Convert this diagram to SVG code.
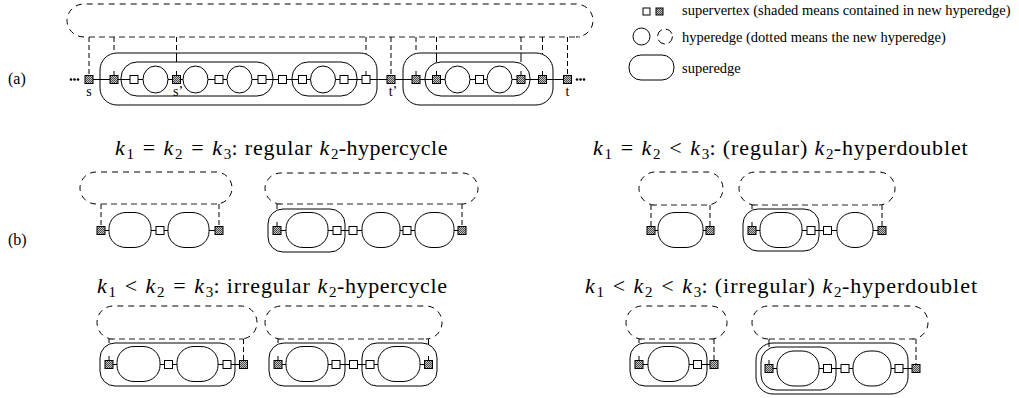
<svg xmlns="http://www.w3.org/2000/svg" width="1019" height="398" viewBox="0 0 1019 398">
<defs>
<pattern id="sh" width="2" height="2" patternUnits="userSpaceOnUse"><rect width="2" height="2" fill="#c4c4c4"/><rect width="1" height="1" fill="#4a4a4a"/><rect x="1" y="1" width="1" height="1" fill="#4a4a4a"/></pattern>
</defs>
<style>
.se{fill:none;stroke:#000;stroke-width:1}
.he{fill:#fff;stroke:#000;stroke-width:1}
.v{fill:#fff;stroke:#000;stroke-width:1}
.vs{fill:url(#sh);stroke:#000;stroke-width:1}
.dh{fill:none;stroke:#000;stroke-width:1;stroke-dasharray:6 5}
.db{stroke:#6e6e6e;stroke-width:1.3;stroke-dasharray:6 4;fill:none}
.dv{stroke:#000;stroke-width:1;stroke-dasharray:5 3;fill:none}
.ln{stroke:#000;stroke-width:1;fill:none}
.dot{fill:#000}
.t{font-family:"Liberation Serif","Times New Roman",serif;fill:#000}
.lg{font-size:14.5px}
.ttl{font-size:22px}
.it{font-style:italic}
.sub{font-size:15px}
</style>

<!-- labels -->
<text class="t" x="8" y="84" font-size="16">(a)</text>
<text class="t" x="8" y="245" font-size="16">(b)</text>

<!-- legend -->
<g id="legend">
<rect class="v" x="643" y="8" width="7" height="7"/>
<rect class="vs" x="656" y="8" width="7" height="7"/>
<text class="t lg" x="682" y="15">supervertex (shaded means contained in new hyperedge)</text>
<circle class="he" cx="641.5" cy="36.5" r="8.5"/>
<circle cx="665" cy="36.5" r="7.5" fill="none" stroke="#000" stroke-dasharray="8 4"/>
<text class="t lg" x="682" y="42">hyperedge (dotted means the new hyperedge)</text>
<rect class="se" x="629" y="55" width="45" height="25" rx="12"/>
<text class="t lg" x="682" y="72.5">superedge</text>
</g>

<!-- (a) -->
<g id="a-new-hyperedge">
<path class="dh" d="M84 37 A17 16.5 0 0 1 84 4 H576 A17 16.5 0 0 1 576 37"/>
<line class="db" x1="89" y1="37" x2="580" y2="37"/>
</g>
<g id="a-connectors">
<line class="ln" x1="89" y1="79.5" x2="567.5" y2="79.5"/>
<line class="dv" x1="89" y1="37" x2="89" y2="75"/>
<line class="dv" x1="114" y1="37" x2="114" y2="53"/><line class="ln" x1="114" y1="71" x2="114" y2="75"/>
<line class="dv" x1="176.5" y1="37" x2="176.5" y2="53"/><line class="ln" x1="176.5" y1="53" x2="176.5" y2="62"/><line class="ln" x1="176.5" y1="71" x2="176.5" y2="75"/>
<line class="dv" x1="366" y1="37" x2="366" y2="54"/><line class="ln" x1="366" y1="71" x2="366" y2="75"/>
<line class="dv" x1="391" y1="37" x2="391" y2="75"/>
<line class="dv" x1="416" y1="37" x2="416" y2="53"/><line class="ln" x1="416" y1="71" x2="416" y2="75"/>
<line class="dv" x1="436.5" y1="37" x2="436.5" y2="53"/><line class="ln" x1="436.5" y1="53" x2="436.5" y2="62"/><line class="ln" x1="436.5" y1="71" x2="436.5" y2="75"/>
<line class="dv" x1="521" y1="37" x2="521" y2="53"/><line class="ln" x1="521" y1="53" x2="521" y2="62"/><line class="ln" x1="521" y1="71" x2="521" y2="75"/>
<line class="dv" x1="542.5" y1="37" x2="542.5" y2="54"/><line class="ln" x1="542.5" y1="71" x2="542.5" y2="75"/>
<line class="dv" x1="567.5" y1="37" x2="567.5" y2="75"/>
<circle class="dot" cx="71" cy="79.5" r="1.3"/><circle class="dot" cx="74.5" cy="79.5" r="1.3"/><circle class="dot" cx="78" cy="79.5" r="1.3"/>
<circle class="dot" cx="577" cy="79.5" r="1.3"/><circle class="dot" cx="580.5" cy="79.5" r="1.3"/><circle class="dot" cx="584" cy="79.5" r="1.3"/>
</g>
<g id="a-superedges">
<rect class="se" x="100" y="53" width="277" height="52" rx="17"/>
<rect class="se" x="121" y="62" width="152" height="34" rx="16"/>
<rect class="se" x="292" y="62" width="65" height="34" rx="16"/>
<rect class="se" x="403" y="53" width="150" height="52" rx="17"/>
<rect class="se" x="425" y="62" width="105" height="34" rx="16"/>
</g>
<g id="a-hyperedges">
<ellipse class="he" cx="155.5" cy="79.5" rx="12.5" ry="13.5"/>
<ellipse class="he" cx="195.5" cy="79.5" rx="12.5" ry="13.5"/>
<ellipse class="he" cx="239.5" cy="79.5" rx="12.5" ry="13.5"/>
<ellipse class="he" cx="323" cy="79.5" rx="12.5" ry="13.5"/>
<ellipse class="he" cx="457.5" cy="79.5" rx="12.5" ry="13.5"/>
<ellipse class="he" cx="499.5" cy="79.5" rx="12.5" ry="13.5"/>
</g>
<g id="a-vertices">
<rect id="a-s" class="vs" x="85" y="75.5" width="8" height="8"/>
<rect class="vs" x="110" y="75.5" width="8" height="8"/>
<rect class="v" x="130" y="75.5" width="8" height="8"/>
<rect id="a-s2" class="vs" x="172.5" y="75.5" width="8" height="8"/>
<rect class="v" x="215" y="75.5" width="8" height="8"/>
<rect class="v" x="258" y="75.5" width="8" height="8"/>
<rect class="v" x="278.5" y="75.5" width="8" height="8"/>
<rect class="v" x="298.5" y="75.5" width="8" height="8"/>
<rect class="v" x="340" y="75.5" width="8" height="8"/>
<rect class="v" x="362" y="75.5" width="8" height="8"/>
<rect id="a-t2" class="vs" x="387" y="75.5" width="8" height="8"/>
<rect class="vs" x="412" y="75.5" width="8" height="8"/>
<rect class="vs" x="432.5" y="75.5" width="8" height="8"/>
<rect class="v" x="475.5" y="75.5" width="8" height="8"/>
<rect class="vs" x="517" y="75.5" width="8" height="8"/>
<rect class="vs" x="538.5" y="75.5" width="8" height="8"/>
<rect id="a-t" class="vs" x="563.5" y="75.5" width="8" height="8"/>
</g>
<g id="a-labels">
<text class="t" x="89" y="96" font-size="14" text-anchor="middle">s</text>
<text class="t" x="178" y="96" font-size="14" text-anchor="middle">s’</text>
<text class="t" x="393" y="96" font-size="14" text-anchor="middle">t’</text>
<text class="t" x="567.5" y="96" font-size="14" text-anchor="middle">t</text>
</g>

<!-- (b) titles -->
<g id="title-1">
<text class="t ttl" y="155"><tspan class="it" x="115">k</tspan><tspan class="sub" x="126.5" dy="4">1</tspan><tspan x="148.9" dy="-4" text-anchor="middle">=</tspan><tspan class="it" x="163.6">k</tspan><tspan class="sub" x="175.1" dy="4">2</tspan><tspan x="197.4" dy="-4" text-anchor="middle">=</tspan><tspan class="it" x="212.2">k</tspan><tspan class="sub" x="223.7" dy="4">3</tspan><tspan x="231.4" dy="-4">:</tspan><tspan x="244.8" textLength="67.4">regular</tspan><tspan class="it" x="319.5">k</tspan><tspan class="sub" x="331" dy="4">2</tspan><tspan x="338.7" dy="-4" textLength="108.8">-hypercycle</tspan></text>
</g>
<g id="title-2">
<text class="t ttl" y="155"><tspan class="it" x="593">k</tspan><tspan class="sub" x="604.5" dy="4">1</tspan><tspan x="626.9" dy="-4" text-anchor="middle">=</tspan><tspan class="it" x="641.6">k</tspan><tspan class="sub" x="653.1" dy="4">2</tspan><tspan x="675.5" dy="-4" text-anchor="middle">&lt;</tspan><tspan class="it" x="690.2">k</tspan><tspan class="sub" x="701.7" dy="4">3</tspan><tspan x="709.4" dy="-4">:</tspan><tspan x="722.8" textLength="84.5">(regular)</tspan><tspan class="it" x="814.6">k</tspan><tspan class="sub" x="826.1" dy="4">2</tspan><tspan x="833.8" dy="-4" textLength="133.9">-hyperdoublet</tspan></text>
</g>
<g id="title-3">
<text class="t ttl" y="293"><tspan class="it" x="97">k</tspan><tspan class="sub" x="108.5" dy="4">1</tspan><tspan x="130.9" dy="-4" text-anchor="middle">&lt;</tspan><tspan class="it" x="145.6">k</tspan><tspan class="sub" x="157.1" dy="4">2</tspan><tspan x="179.5" dy="-4" text-anchor="middle">=</tspan><tspan class="it" x="194.2">k</tspan><tspan class="sub" x="205.7" dy="4">3</tspan><tspan x="213.4" dy="-4">:</tspan><tspan x="226.8" textLength="83">irregular</tspan><tspan class="it" x="317.5">k</tspan><tspan class="sub" x="329" dy="4">2</tspan><tspan x="337" dy="-4" textLength="110">-hypercycle</tspan></text>
</g>
<g id="title-4">
<text class="t ttl" y="293"><tspan class="it" x="585">k</tspan><tspan class="sub" x="596.5" dy="4">1</tspan><tspan x="618.9" dy="-4" text-anchor="middle">&lt;</tspan><tspan class="it" x="633.6">k</tspan><tspan class="sub" x="645.1" dy="4">2</tspan><tspan x="667.5" dy="-4" text-anchor="middle">&lt;</tspan><tspan class="it" x="682.2">k</tspan><tspan class="sub" x="693.7" dy="4">3</tspan><tspan x="701.4" dy="-4">:</tspan><tspan x="714.8" textLength="100">(irregular)</tspan><tspan class="it" x="822.5">k</tspan><tspan class="sub" x="834" dy="4">2</tspan><tspan x="842" dy="-4" textLength="135">-hyperdoublet</tspan></text>
</g>

<!-- (b) row 1, diagram A -->
<g id="b-A">
<path class="dh" d="M96 204 A16 16 0 0 1 96 172 H216 A16 16 0 0 1 216 204"/>
<line class="db" x1="101" y1="204" x2="219" y2="204"/>
<line class="dv" x1="101" y1="204" x2="101" y2="226"/>
<line class="dv" x1="219" y1="204" x2="219" y2="226"/>
<line class="ln" x1="101" y1="230.5" x2="219" y2="230.5"/>
<rect class="he" x="109" y="212.5" width="42" height="35" rx="17" ry="16"/>
<rect class="he" x="168" y="212.5" width="41" height="35" rx="17" ry="16"/>
<rect class="vs" x="97" y="226.5" width="8" height="8"/>
<rect class="v" x="156" y="226.5" width="8" height="8"/>
<rect class="vs" x="215" y="226.5" width="8" height="8"/>
</g>

<!-- diagram B -->
<g id="b-B">
<path class="dh" d="M281 204 A16 15.5 0 0 1 281 173 H462 A16 15.5 0 0 1 462 204"/>
<line class="db" x1="277" y1="204" x2="462" y2="204"/>
<line class="ln" x1="277" y1="204" x2="277" y2="209"/>
<line class="ln" x1="277" y1="222" x2="277" y2="226"/>
<line class="dv" x1="462" y1="204" x2="462" y2="226"/>
<line class="ln" x1="277" y1="230.5" x2="462" y2="230.5"/>
<rect class="se" x="268" y="209" width="77" height="43" rx="15"/>
<rect class="he" x="286" y="212.5" width="42" height="35" rx="17" ry="16"/>
<rect class="he" x="362" y="212.5" width="38" height="35" rx="17" ry="16"/>
<rect class="he" x="415" y="212.5" width="39" height="35" rx="17" ry="16"/>
<rect class="vs" x="273" y="226.5" width="8" height="8"/>
<rect class="v" x="333" y="226.5" width="8" height="8"/>
<rect class="v" x="349" y="226.5" width="8" height="8"/>
<rect class="v" x="403" y="226.5" width="8" height="8"/>
<rect class="vs" x="458" y="226.5" width="8" height="8"/>
</g>

<!-- diagram C -->
<g id="b-C">
<path class="dh" d="M655 205 A16 16.5 0 0 1 655 172 H707 A16 16.5 0 0 1 707 205"/>
<line class="db" x1="651" y1="205" x2="710" y2="205"/>
<line class="dv" x1="651" y1="205" x2="651" y2="226"/>
<line class="dv" x1="710" y1="205" x2="710" y2="226"/>
<line class="ln" x1="651" y1="230.5" x2="710" y2="230.5"/>
<rect class="he" x="658" y="212.5" width="45" height="35" rx="17" ry="16"/>
<rect class="vs" x="647" y="226.5" width="8" height="8"/>
<rect class="vs" x="706" y="226.5" width="8" height="8"/>
</g>

<!-- diagram D -->
<g id="b-D">
<path class="dh" d="M755 205 A16 16.5 0 0 1 755 172 H879 A16 16.5 0 0 1 879 205"/>
<line class="db" x1="752" y1="205" x2="882" y2="205"/>
<line class="ln" x1="752" y1="205" x2="752" y2="209"/>
<line class="ln" x1="752" y1="222" x2="752" y2="226"/>
<line class="dv" x1="882" y1="205" x2="882" y2="226"/>
<line class="ln" x1="752" y1="230.5" x2="882" y2="230.5"/>
<rect class="se" x="743" y="209" width="76" height="42" rx="15"/>
<rect class="he" x="760" y="212.5" width="42" height="35" rx="17" ry="16"/>
<rect class="he" x="837" y="212.5" width="36" height="35" rx="17" ry="16"/>
<rect class="vs" x="748" y="226.5" width="8" height="8"/>
<rect class="v" x="807" y="226.5" width="8" height="8"/>
<rect class="v" x="823.5" y="226.5" width="8" height="8"/>
<rect class="vs" x="878" y="226.5" width="8" height="8"/>
</g>

<!-- row 2, diagram E -->
<g id="b-E">
<path class="dh" d="M113 339 A16 16.5 0 0 1 113 306 H241 A16 16.5 0 0 1 241 339"/>
<line class="db" x1="109" y1="339" x2="243.5" y2="339"/>
<line class="ln" x1="109" y1="339" x2="109" y2="343"/>
<line class="ln" x1="109" y1="356" x2="109" y2="360"/>
<line class="dv" x1="243.5" y1="339" x2="243.5" y2="360"/>
<line class="ln" x1="109" y1="364.5" x2="243.5" y2="364.5"/>
<rect class="se" x="100" y="343" width="135" height="43" rx="15"/>
<rect class="he" x="117" y="346.5" width="43" height="35" rx="17" ry="16"/>
<rect class="he" x="177" y="346.5" width="41" height="35" rx="17" ry="16"/>
<rect class="vs" x="105" y="360.5" width="8" height="8"/>
<rect class="v" x="164.5" y="360.5" width="8" height="8"/>
<rect class="v" x="223" y="360.5" width="8" height="8"/>
<rect class="vs" x="239.5" y="360.5" width="8" height="8"/>
</g>

<!-- diagram F -->
<g id="b-F">
<path class="dh" d="M281 339 A16 16.5 0 0 1 281 306 H426 A16 16.5 0 0 1 426 339"/>
<line class="db" x1="278" y1="339" x2="428.5" y2="339"/>
<line class="ln" x1="278" y1="339" x2="278" y2="343"/>
<line class="ln" x1="278" y1="356" x2="278" y2="360"/>
<line class="ln" x1="428.5" y1="339" x2="428.5" y2="345"/>
<line class="ln" x1="428.5" y1="356" x2="428.5" y2="360"/>
<line class="ln" x1="278" y1="364.5" x2="428.5" y2="364.5"/>
<rect class="se" x="269" y="343" width="76" height="43" rx="15"/>
<rect class="se" x="362" y="343" width="75" height="43" rx="15"/>
<rect class="he" x="286" y="346.5" width="42" height="35" rx="17" ry="16"/>
<rect class="he" x="378" y="346.5" width="42" height="35" rx="17" ry="16"/>
<rect class="vs" x="274" y="360.5" width="8" height="8"/>
<rect class="v" x="332" y="360.5" width="8" height="8"/>
<rect class="v" x="349.5" y="360.5" width="8" height="8"/>
<rect class="v" x="366" y="360.5" width="8" height="8"/>
<rect class="vs" x="424.5" y="360.5" width="8" height="8"/>
</g>

<!-- diagram G -->
<g id="b-G">
<path class="dh" d="M642 339 A16 16.5 0 0 1 642 306 H711 A16 16.5 0 0 1 711 339"/>
<line class="db" x1="639" y1="339" x2="714" y2="339"/>
<line class="ln" x1="639" y1="339" x2="639" y2="343"/>
<line class="ln" x1="639" y1="356" x2="639" y2="360"/>
<line class="dv" x1="714" y1="339" x2="714" y2="360"/>
<line class="ln" x1="639" y1="364.5" x2="714" y2="364.5"/>
<rect class="se" x="630" y="343" width="77" height="43" rx="15"/>
<rect class="he" x="648" y="346.5" width="41" height="35" rx="17" ry="16"/>
<rect class="vs" x="635" y="360.5" width="8" height="8"/>
<rect class="v" x="693.5" y="360.5" width="8" height="8"/>
<rect class="vs" x="710" y="360.5" width="8" height="8"/>
</g>

<!-- diagram H -->
<g id="b-H">
<path class="dh" d="M768 339 A16 16.5 0 0 1 768 306 H912 A16 16.5 0 0 1 912 339"/>
<line class="db" x1="769" y1="339" x2="916" y2="339"/>
<line class="ln" x1="769" y1="339" x2="769" y2="347"/>
<line class="ln" x1="769" y1="360" x2="769" y2="364"/>
<line class="dv" x1="916" y1="339" x2="916" y2="364"/>
<line class="ln" x1="769" y1="368.5" x2="916" y2="368.5"/>
<rect class="se" x="756" y="343" width="152" height="51" rx="17"/>
<rect class="se" x="761" y="347" width="75" height="43" rx="15"/>
<rect class="he" x="777" y="351" width="42" height="35" rx="17" ry="16"/>
<rect class="he" x="853" y="351" width="38" height="35" rx="17" ry="16"/>
<rect class="vs" x="765" y="364.5" width="8" height="8"/>
<rect class="v" x="823.5" y="364.5" width="8" height="8"/>
<rect class="v" x="841" y="364.5" width="8" height="8"/>
<rect class="v" x="895" y="364.5" width="8" height="8"/>
<rect class="vs" x="912" y="364.5" width="8" height="8"/>
</g>
</svg>
